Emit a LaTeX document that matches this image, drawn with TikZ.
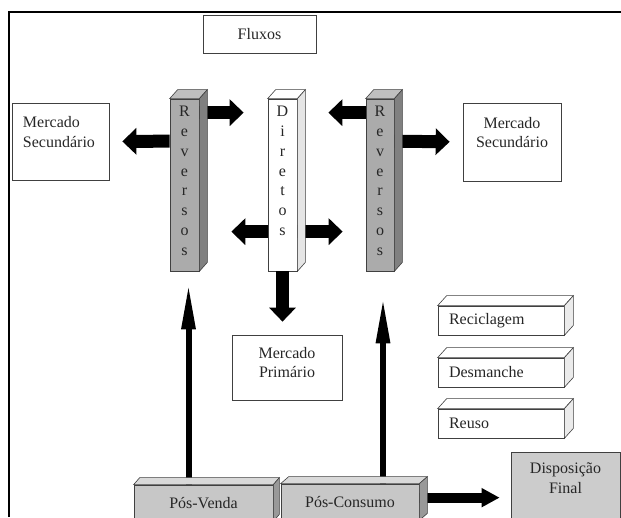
\documentclass[tikz,border=0pt]{standalone}
\usepackage{fontspec}
\setmainfont{Liberation Serif}
\usetikzlibrary{arrows.meta,positioning}
\begin{document}
\begin{tikzpicture}[x=1pt,y=-1pt,
    every node/.style={font=\fontsize{16}{19.5}\selectfont, text=black!85},
    box/.style={draw=black!75, line width=0.7pt, inner sep=0pt, align=center},
    prismface/.style={draw=black!75, line width=0.6pt},
    vtext/.style={inner sep=0pt, align=center, font=\fontsize{16}{19.9}\selectfont},
    blockarrow/.style={line width=13pt, -{Triangle[length=14pt,width=26pt]}},
    thinarrow/.style={line width=6pt, -{Triangle[length=46pt,width=13pt]}}]
  \useasboundingbox (0,0) rectangle (621,517);
  \draw[line width=1.8pt] (9,517) -- (9,12) -- (621,12);

  \node[box, minimum width=113pt, minimum height=38pt] (fluxos) at (259.5,34) {Fluxos};
  \node[box, minimum width=97pt, minimum height=77pt, text width=75pt, align=left] (secL) at (60.5,141.5) {Mercado\\Secund\'ario\\~};
  \node[box, minimum width=98pt, minimum height=78pt] (secR) at (512,142) {Mercado\\Secund\'ario\\~};
  \node[box, minimum width=110pt, minimum height=65pt,
    label={[align=center, anchor=north, yshift=-9pt]north:Mercado\\Prim\'ario}] (mp) at (287,367.5) {};

  % colunas
  \node[box, fill=black!33, minimum width=29pt, minimum height=172pt] (revL) at (184.5,185) {};
  \node[vtext, below=7pt of revL.north] (revLtxt) {R\\e\\v\\e\\r\\s\\o\\s};
  \node[box, fill=white, minimum width=29pt, minimum height=172pt] (dir) at (282.5,185) {};
  \node[vtext, below=7pt of dir.north] (dirtxt) {D\\i\\r\\e\\t\\o\\s};
  \node[box, fill=black!33, minimum width=28pt, minimum height=172pt] (revR) at (380,185) {};
  \node[vtext, below=7pt of revR.north] (revRtxt) {R\\e\\v\\e\\r\\s\\o\\s};

  \foreach \n/\t/\y in {recic/Reciclagem/320.5, desm/Desmanche/372.5, reuso/Reuso/423.5}
    \node[box, fill=white, minimum width=126pt, minimum height=29pt, text width=104pt, align=left] (\n) at (501,\y) {\t};

  \node[box, fill=black!22, minimum width=139pt, minimum height=36pt] (pv) at (203.5,503) {P\'os-Venda};
  \node[box, fill=black!22, minimum width=138pt, minimum height=36pt] (pc) at (350,502) {P\'os-Consumo};
  \node[box, fill=black!20, minimum width=109pt, minimum height=70pt,
    label={[align=center, anchor=north, yshift=-8pt]north:Disposi\c{c}\~ao\\Final}] (disp) at (565.5,487) {};

  % setas
  \draw[blockarrow, shorten >=13pt] ([yshift=-42.5pt]revL.north west) -- (secL.east);
  \draw[blockarrow, shorten >=24pt] ([yshift=-14pt]revL.north east) -- ([yshift=-14pt]dir.north west);
  \draw[blockarrow, shorten >=31pt] ([yshift=-14pt]revR.north west) -- ([yshift=-14pt]dir.north east);
  \draw[blockarrow, shorten >=13pt] ([yshift=-42.5pt]revR.north east) -- (secR.west);
  \draw[blockarrow, shorten >=32pt] ([yshift=-133pt]dir.north west) -- ([yshift=-133pt]revL.north east);
  \draw[blockarrow, shorten >=23pt] ([yshift=-133pt]dir.north east) -- ([yshift=-133pt]revR.north west);
  \draw[blockarrow, shorten >=13pt] (dir.south) -- (dir.south |- mp.north);
  \draw[thinarrow, shorten >=12pt] ([xshift=-15pt]pv.north) -- ([xshift=-15pt]pv.north |- revL.south);
  \draw[thinarrow, shorten >=26pt] ([xshift=33pt]pc.north) -- ([xshift=33pt]pc.north |- revR.south);
  \draw[line width=10pt, -{Triangle[length=18pt,width=18pt]}, shorten >=11pt]
    ([yshift=-14pt]pc.north east) -- ([yshift=-14pt]pc.north east -| disp.west);

  % faces 3D
  \foreach \n/\dx/\dy/\ct/\cs in {revL/8/9/black!25/black!50, dir/8/9/white/black!10,
      revR/8/9/black!25/black!50, recic/9/10/white/black!8, desm/9/10/white/black!8,
      reuso/9/10/white/black!8, pv/6/7/black!15/black!40, pc/8/7/black!15/black!40}{
    \filldraw[prismface, fill=\ct] (\n.north west) -- ++(\dx,-\dy) -- ([shift={(\dx,-\dy)}]\n.north east) -- (\n.north east) -- cycle;
    \filldraw[prismface, fill=\cs] (\n.north east) -- ++(\dx,-\dy) -- ([shift={(\dx,-\dy)}]\n.south east) -- (\n.south east) -- cycle;
  }
\end{tikzpicture}
\end{document}
